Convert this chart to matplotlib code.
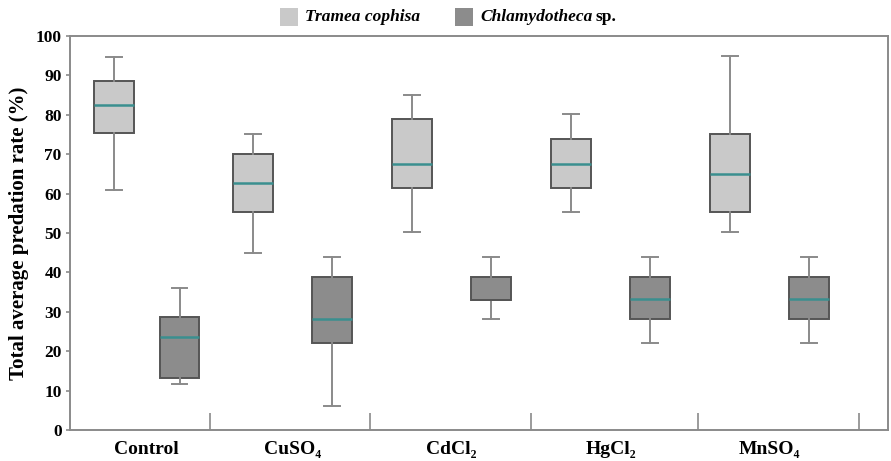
import matplotlib
matplotlib.use("Agg")
import matplotlib.pyplot as plt
from matplotlib.patches import Rectangle
import numpy as np

plt.rcParams['font.family'] = ['Liberation Serif', 'DejaVu Serif']

# data (whisker low, Q1, median, Q3, whisker high)
treatments = ['Control', 'CuSO₄', 'CdCl₂', 'HgCl₂', 'MnSO₄']
tramea_low = [61.0, 45.0, 50.2, 55.3, 50.3]
tramea_q1 = [75.4, 55.3, 61.5, 61.5, 55.3]
tramea_med = [82.6, 62.7, 67.6, 67.6, 65.1]
tramea_q3 = [88.7, 70.0, 78.9, 73.8, 75.0]
tramea_high = [94.6, 75.0, 85.1, 80.1, 95.0]

chlam_low = [11.6, 6.1, 28.1, 22.0, 22.0]
chlam_q1 = [13.3, 22.2, 33.0, 28.1, 28.1]
chlam_med = [23.7, 28.1, 33.0, 33.2, 33.2]
chlam_q3 = [28.6, 38.9, 38.9, 38.9, 38.9]
chlam_high = [36.0, 44.0, 44.0, 44.0, 44.0]

edge_col = '#555555'
whisk_col = '#8a8a8a'
med_col = '#3a8f8f'
light = '#c9c9c9'
dark = '#8c8c8c'


def make_stats(low, q1, med, q3, high):
    return [dict(whislo=a, q1=b, med=c, q3=d, whishi=e, fliers=[])
            for a, b, c, d, e in zip(low, q1, med, q3, high)]


fig = plt.figure(figsize=(8.91, 4.61), dpi=100)
ax = fig.add_axes([70/891, 31/461, 818/891, 394/461])

# group layout (control group is a bit narrower in the original)
centers = np.array([0.483, 1.40, 2.40, 3.40, 4.40])
half = np.array([0.206, 0.248, 0.248, 0.248, 0.248])
bw = 0.25

for stats, pos, fc in [(make_stats(tramea_low, tramea_q1, tramea_med, tramea_q3, tramea_high), centers - half, light),
                       (make_stats(chlam_low, chlam_q1, chlam_med, chlam_q3, chlam_high), centers + half, dark)]:
    bp = ax.bxp(stats, positions=pos, widths=bw, capwidths=0.1, patch_artist=True,
                showfliers=False, manage_ticks=False,
                boxprops=dict(facecolor=fc, edgecolor=edge_col, linewidth=1.4),
                whiskerprops=dict(color=whisk_col, linewidth=1.4),
                capprops=dict(color=whisk_col, linewidth=1.4),
                medianprops=dict(color=med_col, linewidth=1.8))
    for s, m in zip(stats, bp['medians']):
        if s['med'] == s['q1'] or s['med'] == s['q3']:
            m.set_color(edge_col)
            m.set_linewidth(1.4)

ax.set_xlim(0, 5.145)
ax.set_ylim(0, 100)
ax.set_yticks(np.arange(0, 101, 10))
ax.set_xticks(centers)
ax.set_xticklabels(treatments, fontsize=14, fontweight='bold')
ax.set_xticks([0.88, 1.89, 2.90, 3.95, 4.96], minor=True)
ax.tick_params(axis='x', which='major', length=0, pad=8)
ax.tick_params(axis='x', which='minor', direction='in', length=12, width=1.2, color='#8a8a8a')
ax.tick_params(axis='y', length=3, width=1.2, color='#8a8a8a', labelsize=12.5, pad=3)
for lab in ax.get_yticklabels():
    lab.set_fontweight('bold')
ax.set_ylabel('Total average predation rate (%)', fontsize=15, fontweight='bold', labelpad=5)
for sp in ax.spines.values():
    sp.set_color('#8a8a8a')
    sp.set_linewidth(1.4)

# legend drawn by hand so that "sp." can stay upright
fig.patches.append(Rectangle((280/891, 1 - 26/461), 18/891, 18/461, transform=fig.transFigure,
                             facecolor=light, edgecolor='none'))
fig.patches.append(Rectangle((455/891, 1 - 26/461), 18/891, 18/461, transform=fig.transFigure,
                             facecolor=dark, edgecolor='none'))
fig.text(305/891, 1 - 17/461, 'Tramea cophisa', fontsize=12.5, fontweight='bold',
         fontstyle='italic', va='center')
t = fig.text(480/891, 1 - 17/461, 'Chlamydotheca', fontsize=12.5, fontweight='bold',
             fontstyle='italic', va='center')
fig.canvas.draw()
bb = t.get_window_extent()
fig.text((bb.x1 + 3) / 891, 1 - 17/461, 'sp.', fontsize=12.5, fontweight='bold', va='center')

fig.savefig('out.png', dpi=100, facecolor='white')
